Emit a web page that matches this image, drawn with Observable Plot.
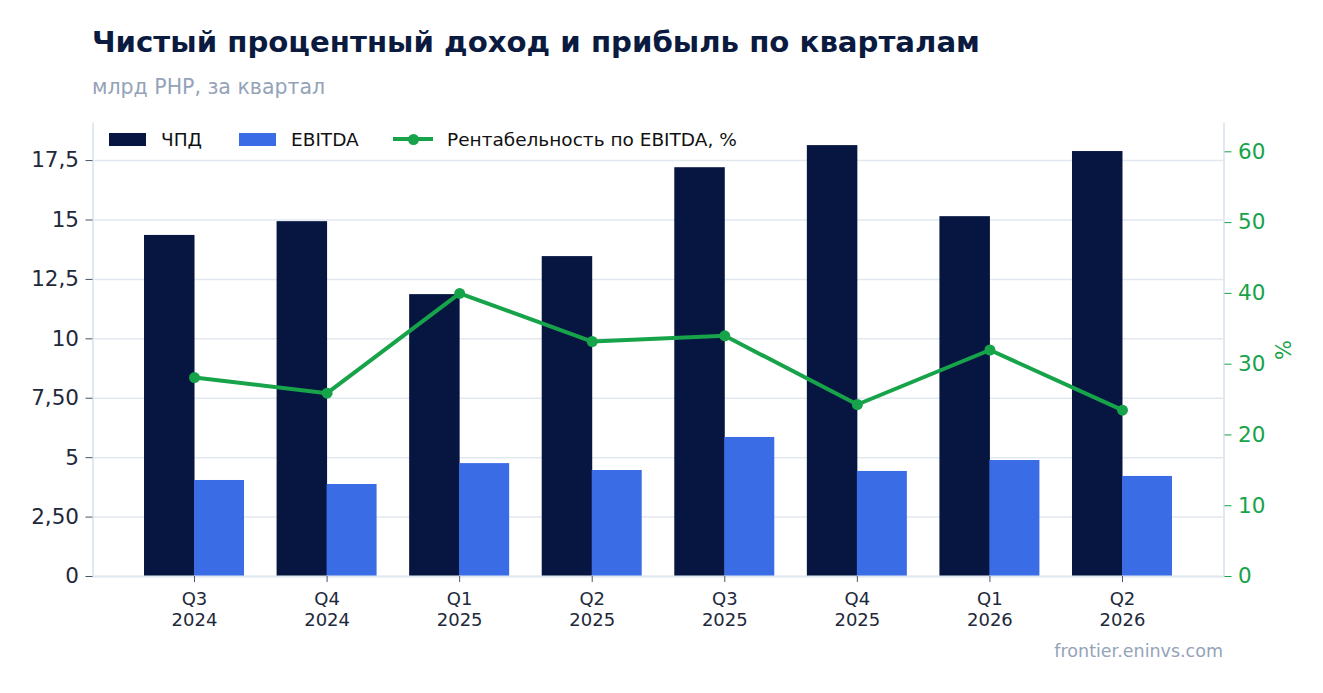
<!DOCTYPE html>
<html>
<head>
<meta charset="utf-8">
<script src="https://cdn.jsdelivr.net/npm/d3@7"></script>
<script src="https://cdn.jsdelivr.net/npm/@observablehq/plot@0.6"></script>
<style>
  body { margin: 0; background: #fff; font-family: "DejaVu Sans", sans-serif; }
  #wrap { position: relative; width: 1323px; height: 693px; overflow: hidden; }
  .abs { position: absolute; white-space: nowrap; }
  #title { left: 92px; top: 25px; font-size: 29.2px; font-weight: bold; color: #0b1a3f; }
  #subtitle { left: 92px; top: 75px; font-size: 20.5px; color: #94a3b8; }
  #source { right: 100px; top: 641px; font-size: 17.5px; color: #94a3b8; }
  #pct { left: 1274px; top: 338px; font-size: 21px; color: #16a34a; transform: rotate(-90deg); transform-origin: center; }
  .leg { position: absolute; top: 127px; font-size: 18.5px; color: #111; display: flex; align-items: center; height: 24px; }
  .sw { width: 37px; height: 13px; margin-right: 15px; }
  .ln { position: relative; width: 40px; height: 4px; background: #16a34a; margin-right: 14px; }
  .ln::after { content: ""; position: absolute; left: 14.5px; top: -3.5px; width: 11px; height: 11px; border-radius: 50%; background: #16a34a; }
</style>
</head>
<body>
<div id="wrap">
  <div id="chart"></div>
  <div class="abs" id="title">Чистый процентный доход и прибыль по кварталам</div>
  <div class="abs" id="subtitle">млрд РНР, за квартал</div>
  <div class="leg" style="left:109px"><div class="sw" style="background:#061640"></div>ЧПД</div>
  <div class="leg" style="left:239px"><div class="sw" style="background:#3a6ce6"></div>EBITDA</div>
  <div class="leg" style="left:393px"><div class="ln"></div>Рентабельность по EBITDA, %</div>
  <div class="abs" id="pct">%</div>
  <div class="abs" id="source">frontier.eninvs.com</div>
</div>
<script>
const quarters = ["Q3 2024","Q4 2024","Q1 2025","Q2 2025","Q3 2025","Q4 2025","Q1 2026","Q2 2026"];
const nii = [14.35, 14.93, 11.86, 13.46, 17.20, 18.13, 15.14, 17.88];
const ebitda = [4.04, 3.87, 4.75, 4.46, 5.85, 4.42, 4.88, 4.21];
const margin = [28.1, 25.9, 40.0, 33.2, 34.0, 24.3, 32.0, 23.5];
const leftTicks = [0, 2.5, 5, 7.5, 10, 12.5, 15, 17.5];
const leftLabels = ["0", "2,50", "5", "7,50", "10", "12,5", "15", "17,5"];
const rightTicks = [0, 10, 20, 30, 40, 50, 60];

const yMax = 19.06, pctMax = 64;
const k = yMax / pctMax;

const rows = quarters.map((q, i) => ({q, nii: nii[i], ebitda: ebitda[i], m: margin[i] * k}));
const green = "#16a34a";

const plot = Plot.plot({
  width: 1323,
  height: 693,
  marginLeft: 92.5,
  marginRight: 99.5,
  marginTop: 123,
  marginBottom: 117,
  style: {fontFamily: "DejaVu Sans, sans-serif", background: "transparent"},
  x: {domain: quarters, paddingInner: 0.2457, paddingOuter: 0.3886, round: false},
  y: {domain: [0, yMax]},
  marks: [
    Plot.gridY(leftTicks, {stroke: "#e2e8f0", strokeOpacity: 1, strokeWidth: 1.5}),
    Plot.frame({anchor: "left", stroke: "#e2e8f0", strokeWidth: 2}),
    Plot.frame({anchor: "right", stroke: "#e2e8f0", strokeWidth: 2}),
    Plot.barY(rows, {x: "q", y: "nii", fill: "#061640", insetRight: 49.5}),
    Plot.barY(rows, {x: "q", y: "ebitda", fill: "#3a6ce6", insetLeft: 50}),
    Plot.ruleY([0], {stroke: "#e2e8f0", strokeWidth: 2}),
    Plot.line(rows, {x: "q", y: "m", stroke: green, strokeWidth: 4}),
    Plot.dot(rows, {x: "q", y: "m", fill: green, r: 5.5}),
    Plot.axisY(leftTicks, {anchor: "left", tickFormat: (d) => leftLabels[leftTicks.indexOf(d)], fontSize: 21.5, color: "#1e293b", stroke: "#475569", tickSize: 7, tickPadding: 7, label: null}),
    Plot.axisY(rightTicks.map(p => p * k), {anchor: "right", tickFormat: d => String(Math.round(d / k)), fontSize: 21.5, color: green, stroke: green, tickSize: 7, tickPadding: 7, label: null}),
    Plot.axisX({tickFormat: d => d.replace(" ", "\n"), fontSize: 18, color: "#1e293b", stroke: "#475569", tickSize: 6, tickPadding: 7.5, lineHeight: 1.17, label: null})
  ]
});
document.getElementById("chart").appendChild(plot);
</script>
</body>
</html>
